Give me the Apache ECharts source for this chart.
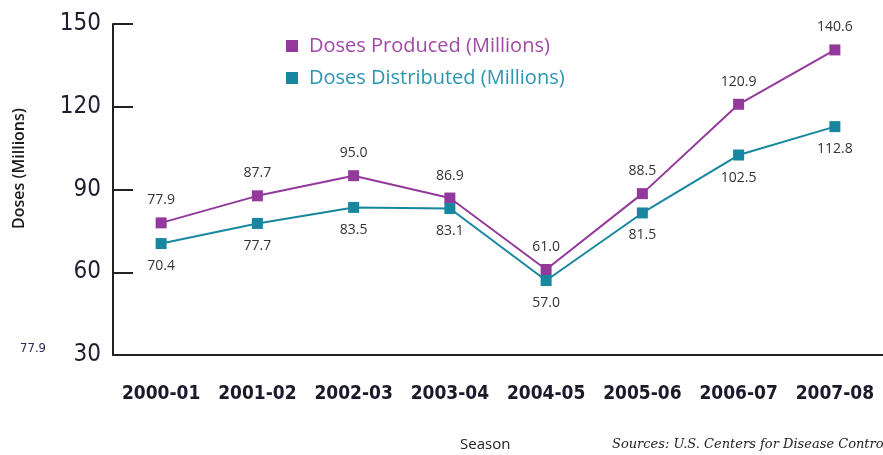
<!DOCTYPE html>
<html>
<head>
<meta charset="utf-8">
<style>
  html, body { margin: 0; padding: 0; background: #fff; }
  #chart { width: 883px; height: 455px; }
</style>
<script src="https://cdn.jsdelivr.net/npm/echarts@6/dist/echarts.min.js"></script>
</head>
<body>
<div id="chart"></div>
<script>
var seasons = ["2000-01", "2001-02", "2002-03", "2003-04", "2004-05", "2005-06", "2006-07", "2007-08"];
var produced = [77.9, 87.7, 95.0, 86.9, 61.0, 88.5, 120.9, 140.6];
var distributed = [70.4, 77.7, 83.5, 83.1, 57.0, 81.5, 102.5, 112.8];
var yTicks = [30, 60, 90, 120, 150];

var purple = "#93399b";
var teal = "#17879f";

var chart = echarts.init(document.getElementById("chart"));

var option = {
  animation: false,
  grid: {
    left: 113,
    top: 24,
    bottom: 100,
    width: 776
  },
  legend: {
    orient: "vertical",
    left: 281,
    top: 31,
    itemGap: 12,
    icon: "rect",
    itemWidth: 12,
    itemHeight: 12,
    textStyle: { fontSize: 20, fontFamily: "Open Sans", padding: [0, 0, 0, 6] },
    data: [
      { name: "Doses Produced (Millions)", textStyle: { color: "#a049a6" } },
      { name: "Doses Distributed (Millions)", textStyle: { color: "#2a95b2" } }
    ]
  },
  xAxis: {
    type: "category",
    data: seasons,
    boundaryGap: true,
    axisLine: { lineStyle: { color: "#222", width: 2 } },
    axisTick: { inside: true, length: 8, lineStyle: { color: "#222", width: 2 } },
    axisLabel: {
      interval: 0,
      margin: 30,
      color: "#1a1a2a",
      fontSize: 19,
      fontWeight: "bold",
      fontFamily: "DejaVu Sans Condensed"
    }
  },
  yAxis: {
    type: "value",
    min: 30,
    max: 150,
    interval: 30,
    splitLine: { show: false },
    axisLine: { show: true, lineStyle: { color: "#222", width: 2 } },
    axisTick: { show: true, inside: true, length: 20, lineStyle: { color: "#222", width: 2 } },
    axisLabel: {
      margin: 12,
      color: "#1e1e2e",
      fontSize: 24,
      fontFamily: "DejaVu Sans Condensed",
      formatter: function (v) { return yTicks.indexOf(v) >= 0 ? v : ""; }
    }
  },
  series: [
    {
      name: "Doses Produced (Millions)",
      type: "line",
      data: produced,
      symbol: "rect",
      symbolSize: 11,
      lineStyle: { color: purple, width: 2 },
      itemStyle: { color: purple },
      label: {
        show: true,
        position: "top",
        distance: 10,
        color: "#333",
        fontSize: 14,
        fontFamily: "Open Sans",
        formatter: function (p) { return p.value.toFixed(1); }
      }
    },
    {
      name: "Doses Distributed (Millions)",
      type: "line",
      data: distributed,
      symbol: "rect",
      symbolSize: 11,
      lineStyle: { color: teal, width: 2 },
      itemStyle: { color: teal },
      label: {
        show: true,
        position: "bottom",
        distance: 10,
        color: "#333",
        fontSize: 14,
        fontFamily: "Open Sans",
        formatter: function (p) { return p.value.toFixed(1); }
      }
    }
  ],
  graphic: [
    {
      type: "text",
      x: 11,
      y: 229,
      rotation: Math.PI / 2,
      style: { text: "Doses (Millions)", fontSize: 16, fontWeight: 600, fill: "#1a1a1a", fontFamily: "Open Sans" }
    },
    {
      type: "text",
      left: 20,
      top: 342,
      style: { text: "77.9", fontSize: 13, fill: "#2a2a55", fontFamily: "DejaVu Sans Condensed" }
    },
    {
      type: "text",
      left: 460,
      top: 437,
      style: { text: "Season", fontSize: 15, fill: "#222", fontFamily: "Open Sans" }
    },
    {
      type: "text",
      left: 612,
      top: 438,
      style: {
        text: "Sources: U.S. Centers for Disease Control and Prevention",
        fontSize: 13,
        fontStyle: "italic",
        fill: "#222",
        fontFamily: "DejaVu Serif"
      }
    }
  ]
};

chart.setOption(option);
</script>
</body>
</html>
